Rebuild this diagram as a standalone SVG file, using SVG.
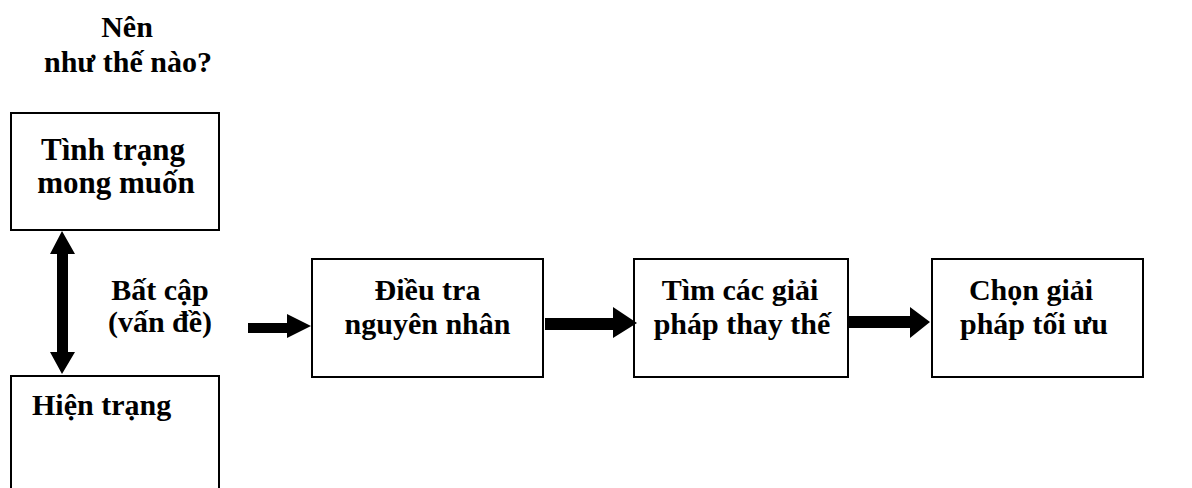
<svg xmlns="http://www.w3.org/2000/svg" width="1192" height="488" viewBox="0 0 1192 488">
<style>
.box{fill:#fff;stroke:#000;stroke-width:2}
</style>
<rect width="1192" height="488" fill="#fff"/>
<g id="label-top" text-anchor="middle">
<text x="127" y="37" font-family="Liberation Serif, serif" font-weight="bold" font-size="30">Nên</text>
<text x="128" y="72" font-family="Liberation Serif, serif" font-weight="bold" font-size="30">như thế nào?</text>
</g>
<g id="node-desired" text-anchor="middle">
<rect class="box" x="11" y="113" width="208" height="117"/>
<text x="113" y="160" font-family="Liberation Serif, serif" font-weight="bold" font-size="31">Tình trạng</text>
<text x="116" y="193" font-family="Liberation Serif, serif" font-weight="bold" font-size="31">mong muốn</text>
</g>
<g id="node-current">
<rect class="box" x="11" y="376" width="208" height="120"/>
<text x="32" y="415" font-family="Liberation Serif, serif" font-weight="bold" font-size="30">Hiện trạng</text>
</g>
<g id="label-gap" text-anchor="middle">
<text x="160" y="300" font-family="Liberation Serif, serif" font-weight="bold" font-size="30">Bất cập</text>
<text x="160" y="332" font-family="Liberation Serif, serif" font-weight="bold" font-size="30">(vấn đề)</text>
</g>
<g id="node-investigate" text-anchor="middle">
<rect class="box" x="312" y="259" width="231" height="118"/>
<text x="427.5" y="300" font-family="Liberation Serif, serif" font-weight="bold" font-size="30">Điều tra</text>
<text x="427.5" y="334" font-family="Liberation Serif, serif" font-weight="bold" font-size="30">nguyên nhân</text>
</g>
<g id="node-alternatives" text-anchor="middle">
<rect class="box" x="634" y="259" width="214" height="118"/>
<text x="740" y="300" font-family="Liberation Serif, serif" font-weight="bold" font-size="30">Tìm các giải</text>
<text x="742" y="334" font-family="Liberation Serif, serif" font-weight="bold" font-size="30">pháp thay thế</text>
</g>
<g id="node-choose" text-anchor="middle">
<rect class="box" x="932" y="259" width="211" height="118"/>
<text x="1031" y="300" font-family="Liberation Serif, serif" font-weight="bold" font-size="30">Chọn giải</text>
<text x="1034" y="334" font-family="Liberation Serif, serif" font-weight="bold" font-size="30">pháp tối ưu</text>
</g>
<g id="connectors" fill="#000">
<polygon points="57,254 50,254 62,231 75,254 68,254 68,352 75,352 62,374 50,352 57,352"/>
<polygon points="248,323 287,323 287,314 311,326 287,338 287,333 248,333"/>
<polygon points="545,318 613,318 613,307 637,323 613,338 613,330 545,330"/>
<polygon points="848,316 910,316 910,307 930,322 910,338 910,328 848,328"/>
</g>
</svg>
